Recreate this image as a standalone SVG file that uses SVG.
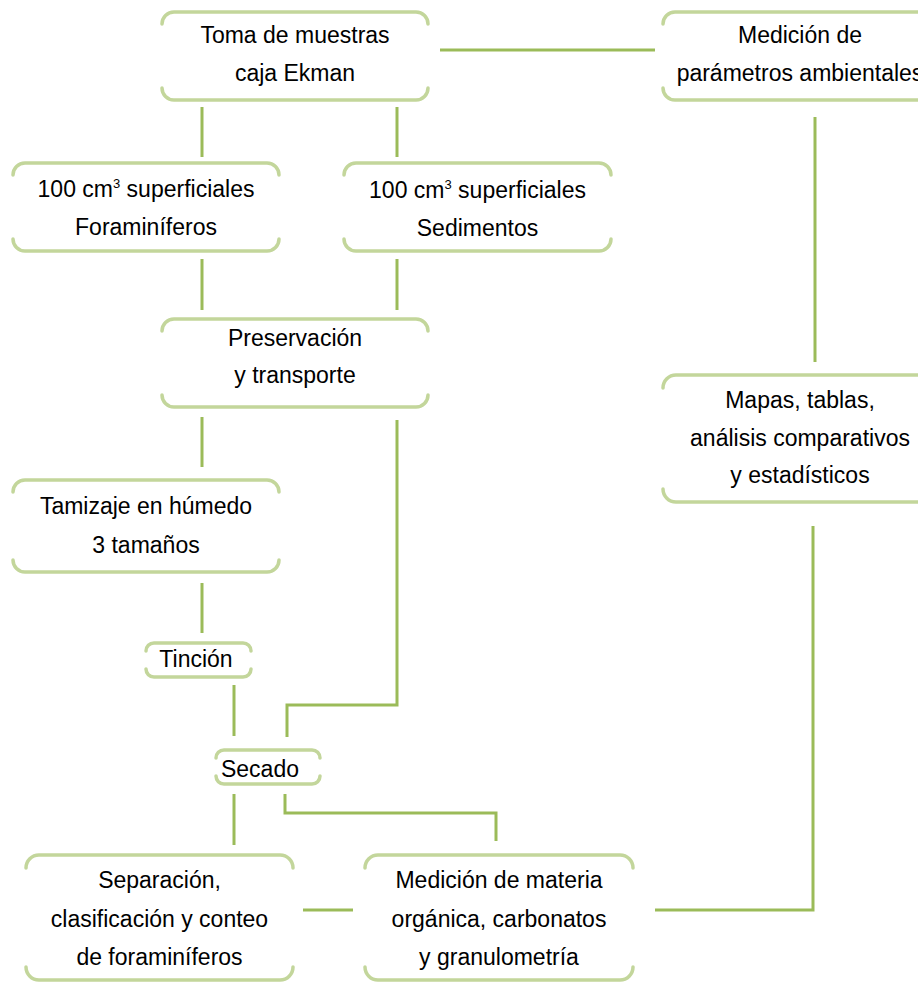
<svg xmlns="http://www.w3.org/2000/svg" width="918" height="983" viewBox="0 0 918 983">
<style>
.b{fill:none;stroke:#c3d69b;stroke-width:3.5;stroke-linecap:round}
.c{fill:none;stroke:#9bbb59;stroke-width:3}
text{font-family:"Liberation Sans",Arial,sans-serif;font-size:23px;fill:#000;text-anchor:middle}
.sup{font-size:13px}
</style>
<rect width="918" height="983" fill="#fff"/>
<g id="connectors">
<path class="c" d="M440,50 H655"/>
<path class="c" d="M202,107 V157"/>
<path class="c" d="M397,107 V157"/>
<path class="c" d="M202,259 V310"/>
<path class="c" d="M397,259 V310"/>
<path class="c" d="M202,417 V467"/>
<path class="c" d="M202,583 V633"/>
<path class="c" d="M397,420 V705 H287 V737"/>
<path class="c" d="M234,685 V736"/>
<path class="c" d="M234,794 V845"/>
<path class="c" d="M285,794 V813 H496 V841"/>
<path class="c" d="M303,910 H353"/>
<path class="c" d="M655,910 H813 V526"/>
<path class="c" d="M815,117 V362"/>
</g>
<g id="toma">
<path class="b" d="M162,24 A12 12 0 0 1 174,12 H416 A12 12 0 0 1 428,24"/>
<path class="b" d="M162,88 A12 12 0 0 0 174,100 H416 A12 12 0 0 0 428,88"/>
<text x="295" y="43">Toma de muestras</text>
<text x="295" y="81">caja Ekman</text>
</g>
<g id="medicion-param">
<path class="b" d="M663,24 A12 12 0 0 1 675,12 H925 A12 12 0 0 1 937,24"/>
<path class="b" d="M663,88 A12 12 0 0 0 675,100 H925 A12 12 0 0 0 937,88"/>
<text x="800" y="43">Medición de</text>
<text x="800" y="81">parámetros ambientales</text>
</g>
<g id="foram">
<path class="b" d="M13,175 A12 12 0 0 1 25,163 H267 A12 12 0 0 1 279,175"/>
<path class="b" d="M13,239 A12 12 0 0 0 25,251 H267 A12 12 0 0 0 279,239"/>
<text x="146" y="197">100 cm<tspan class="sup" dy="-9">3</tspan><tspan dy="9"> superficiales</tspan></text>
<text x="146" y="235">Foraminíferos</text>
</g>
<g id="sedim">
<path class="b" d="M344,175 A12 12 0 0 1 356,163 H599 A12 12 0 0 1 611,175"/>
<path class="b" d="M344,239 A12 12 0 0 0 356,251 H599 A12 12 0 0 0 611,239"/>
<text x="477.5" y="198">100 cm<tspan class="sup" dy="-9">3</tspan><tspan dy="9"> superficiales</tspan></text>
<text x="477.5" y="236">Sedimentos</text>
</g>
<g id="preserv">
<path class="b" d="M162,331 A12 12 0 0 1 174,319 H416 A12 12 0 0 1 428,331"/>
<path class="b" d="M162,395 A12 12 0 0 0 174,407 H416 A12 12 0 0 0 428,395"/>
<text x="295" y="346">Preservación</text>
<text x="295" y="383">y transporte</text>
</g>
<g id="tamizaje">
<path class="b" d="M13,492 A12 12 0 0 1 25,480 H267 A12 12 0 0 1 279,492"/>
<path class="b" d="M13,560 A12 12 0 0 0 25,572 H267 A12 12 0 0 0 279,560"/>
<text x="146" y="514">Tamizaje en húmedo</text>
<text x="146" y="553">3 tamaños</text>
</g>
<g id="tincion">
<path class="b" d="M146,651 A8 8 0 0 1 154,643 H243 A8 8 0 0 1 251,651"/>
<path class="b" d="M146,669 A8 8 0 0 0 154,677 H243 A8 8 0 0 0 251,669"/>
<text x="196" y="667">Tinción</text>
</g>
<g id="secado">
<path class="b" d="M216,758 A8 8 0 0 1 224,750 H312 A8 8 0 0 1 320,758"/>
<path class="b" d="M216,776 A8 8 0 0 0 224,784 H312 A8 8 0 0 0 320,776"/>
<text x="260" y="777">Secado</text>
</g>
<g id="separacion">
<path class="b" d="M26,868 A13 13 0 0 1 39,855 H280 A13 13 0 0 1 293,868"/>
<path class="b" d="M26,967 A13 13 0 0 0 39,980 H280 A13 13 0 0 0 293,967"/>
<text x="159.5" y="888">Separación,</text>
<text x="159.5" y="927">clasificación y conteo</text>
<text x="159.5" y="965">de foraminíferos</text>
</g>
<g id="materia">
<path class="b" d="M365,868 A13 13 0 0 1 378,855 H620 A13 13 0 0 1 633,868"/>
<path class="b" d="M365,967 A13 13 0 0 0 378,980 H620 A13 13 0 0 0 633,967"/>
<text x="499" y="888">Medición de materia</text>
<text x="499" y="927">orgánica, carbonatos</text>
<text x="499" y="965">y granulometría</text>
</g>
<g id="mapas">
<path class="b" d="M663,388 A13 13 0 0 1 676,375 H924 A13 13 0 0 1 937,388"/>
<path class="b" d="M663,489 A13 13 0 0 0 676,502 H924 A13 13 0 0 0 937,489"/>
<text x="800" y="408">Mapas, tablas,</text>
<text x="800" y="446">análisis comparativos</text>
<text x="800" y="483">y estadísticos</text>
</g>
</svg>
